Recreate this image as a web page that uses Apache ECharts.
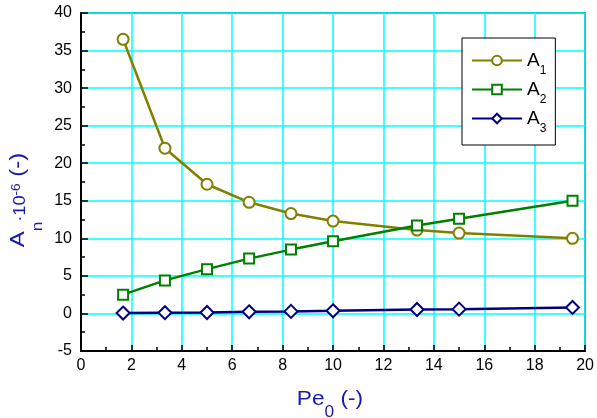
<!DOCTYPE html>
<html>
<head>
<meta charset="utf-8">
<script src="https://cdn.jsdelivr.net/npm/echarts@6/dist/echarts.min.js"></script>
<style>html,body{margin:0;padding:0;background:#fff}#c{width:597px;height:418px}</style>
</head>
<body>
<div id="c"></div>
<script>
var peValues = [1.67, 3.33, 5.0, 6.67, 8.33, 10.0, 13.33, 15.0, 19.5];
var a1Values = [36.5, 22.0, 17.2, 14.8, 13.3, 12.3, 11.1, 10.7, 10.0];
var a2Values = [2.5, 4.4, 5.9, 7.3, 8.5, 9.6, 11.7, 12.6, 15.0];
var a3Values = [0.05, 0.1, 0.13, 0.22, 0.27, 0.35, 0.53, 0.57, 0.8];
var seriesNames = ['A1', 'A2', 'A3'];
var xTicks = [0, 2, 4, 6, 8, 10, 12, 14, 16, 18, 20];
var yTicks = [-5, 0, 5, 10, 15, 20, 25, 30, 35, 40];

function pairs(xs, ys) { return xs.map(function (x, i) { return [x, ys[i]]; }); }

var font = '"Liberation Sans", Arial, sans-serif';
var chart = echarts.init(document.getElementById('c'), null, { renderer: 'canvas' });
var colors = ['#808000', '#008000', '#000080'];
var symbols = ['emptyCircle', 'emptyRect', 'emptyDiamond'];
var sizes = [11, 10, 13];
var datas = [a1Values, a2Values, a3Values];
var labelColor = '#1a1aa8';

chart.setOption({
  animation: false,
  backgroundColor: '#fff',
  grid: { left: 81, top: 13, right: 11, bottom: 67, show: true, borderColor: '#222', borderWidth: 1.5, backgroundColor: 'transparent' },
  xAxis: {
    type: 'value', min: xTicks[0], max: xTicks[xTicks.length - 1], interval: 2,
    axisLine: { show: true, onZero: false, lineStyle: { color: '#000', width: 2 } },
    axisTick: { show: true, inside: true, length: 6, lineStyle: { color: '#000', width: 1.5 } },
    minorTick: { show: true, splitNumber: 2, length: 4, lineStyle: { color: '#000', width: 1.5 } },
    splitLine: { show: true, lineStyle: { color: '#00ffff', width: 1.5 } },
    axisLabel: { color: '#000', fontSize: 16, fontFamily: font, margin: 7 }
  },
  yAxis: {
    type: 'value', min: yTicks[0], max: yTicks[yTicks.length - 1], interval: 5,
    axisLine: { show: true, onZero: false, lineStyle: { color: '#000', width: 2 } },
    axisTick: { show: true, inside: true, length: 7, lineStyle: { color: '#000', width: 1.5 } },
    minorTick: { show: true, splitNumber: 2, length: 4, lineStyle: { color: '#000', width: 1.5 } },
    splitLine: { show: true, lineStyle: { color: '#00ffff', width: 1.5 } },
    axisLabel: { color: '#000', fontSize: 16, fontFamily: font, margin: 9 }
  },
  legend: {
    orient: 'vertical', left: 462, top: 38,
    padding: [6, 9, 10, 9], itemGap: -4,
    itemWidth: 50, itemHeight: 12,
    backgroundColor: '#fff', borderColor: '#000', borderWidth: 1, borderRadius: 0,
    data: seriesNames,
    formatter: function (name) { return '{b|' + name.charAt(0) + '}{s|' + name.slice(1) + '}'; },
    textStyle: {
      rich: {
        b: { fontSize: 19, fontFamily: font, color: '#000', lineHeight: 22, verticalAlign: 'middle' },
        s: { fontSize: 12, fontFamily: font, color: '#000', lineHeight: 10, verticalAlign: 'middle', padding: [21, 0, 0, 0] }
      }
    }
  },
  graphic: [
    {
      type: 'text', x: 18, y: 200, rotation: Math.PI / 2, scaleX: 1.14,
      style: {
        text: '{b|A}{s|n}{m|·10}{p|-6}{b| (-)}',
        align: 'center', verticalAlign: 'middle',
        rich: {
          b: { fontSize: 21, fontFamily: font, fill: labelColor, lineHeight: 24, verticalAlign: 'middle' },
          s: { fontSize: 15, fontFamily: font, fill: labelColor, lineHeight: 10, verticalAlign: 'middle', padding: [40, 0, 0, 0] },
          m: { fontSize: 16, fontFamily: font, fill: labelColor, lineHeight: 10, verticalAlign: 'middle', padding: [6, 0, 0, 0] },
          p: { fontSize: 12, fontFamily: font, fill: labelColor, lineHeight: 10, verticalAlign: 'middle', padding: [0, 0, 3, 0] }
        }
      }
    },
    {
      type: 'text', x: 330, y: 399, scaleX: 1.08,
      style: {
        text: '{b|Pe}{s|0}{b| (-)}',
        align: 'center', verticalAlign: 'middle',
        rich: {
          b: { fontSize: 21, fontFamily: font, fill: labelColor, lineHeight: 24, verticalAlign: 'middle' },
          s: { fontSize: 16, fontFamily: font, fill: labelColor, lineHeight: 10, verticalAlign: 'middle', padding: [28, 0, 0, 0] }
        }
      }
    }
  ],
  series: seriesNames.map(function (n, i) {
    return {
      name: n, type: 'line', data: pairs(peValues, datas[i]),
      symbol: symbols[i], symbolSize: sizes[i],
      showAllSymbol: true,
      lineStyle: { color: colors[i], width: 2.5 },
      itemStyle: { color: colors[i], borderColor: colors[i], borderWidth: 1.5 },
      z: 3 + i
    };
  })
});
</script>
</body>
</html>
